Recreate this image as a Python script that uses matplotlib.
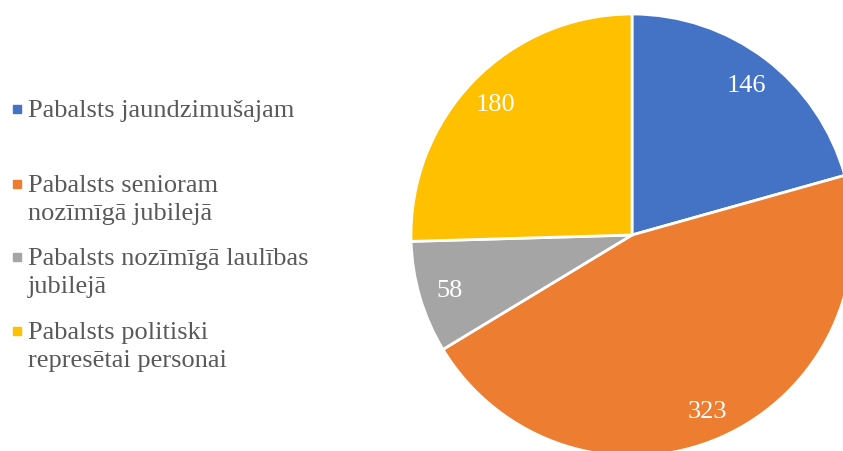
import matplotlib.pyplot as plt

labels = ['Pabalsts jaundzimušajam',
          'Pabalsts senioram\nnozīmīgā jubilejā',
          'Pabalsts nozīmīgā laulības\njubilejā',
          'Pabalsts politiski\nrepresētai personai']
values = [146, 323, 58, 180]
colors = ['#4472C4', '#ED7D31', '#A5A5A5', '#FFC000']

W, H = 843, 451
fig = plt.figure(figsize=(W / 100, H / 100), dpi=100)
plt.rcParams['font.family'] = ['Liberation Serif', 'DejaVu Serif']

# pie: centre (632, 235) px, radius 221 px
cx, cy, r = 632, 235, 221
ax = fig.add_axes([(cx - r) / W, (H - cy - r) / H, 2 * r / W, 2 * r / H])
wedges, _, autotexts = ax.pie(values, colors=colors, startangle=90, counterclock=False,
                              autopct=lambda p: '%d' % round(p * sum(values) / 100),
                              pctdistance=0.86,
                              wedgeprops=dict(edgecolor='white', linewidth=2))
for t in autotexts:
    t.set_color('white')
    t.set_fontsize(19)
    t.set_va('center_baseline')
ax.set_xlim(-1, 1)
ax.set_ylim(-1, 1)
ax.axis('off')

# legend drawn by hand (Excel-like spacing)
baselines = [117, 192, 265, 339]
square_y = [109, 184, 257, 331]
line_step = 28
for lab, col, b, sy in zip(labels, colors, baselines, square_y):
    fig.patches.append(plt.Rectangle((13 / W, (H - sy - 4) / H), 8 / W, 8 / H,
                                     transform=fig.transFigure, color=col))
    for i, line in enumerate(lab.split('\n')):
        fig.text(28 / W, (H - b - i * line_step) / H, line, fontsize=19,
                 color='#595959', va='baseline', ha='left')

fig.savefig('out.png', dpi=100)
